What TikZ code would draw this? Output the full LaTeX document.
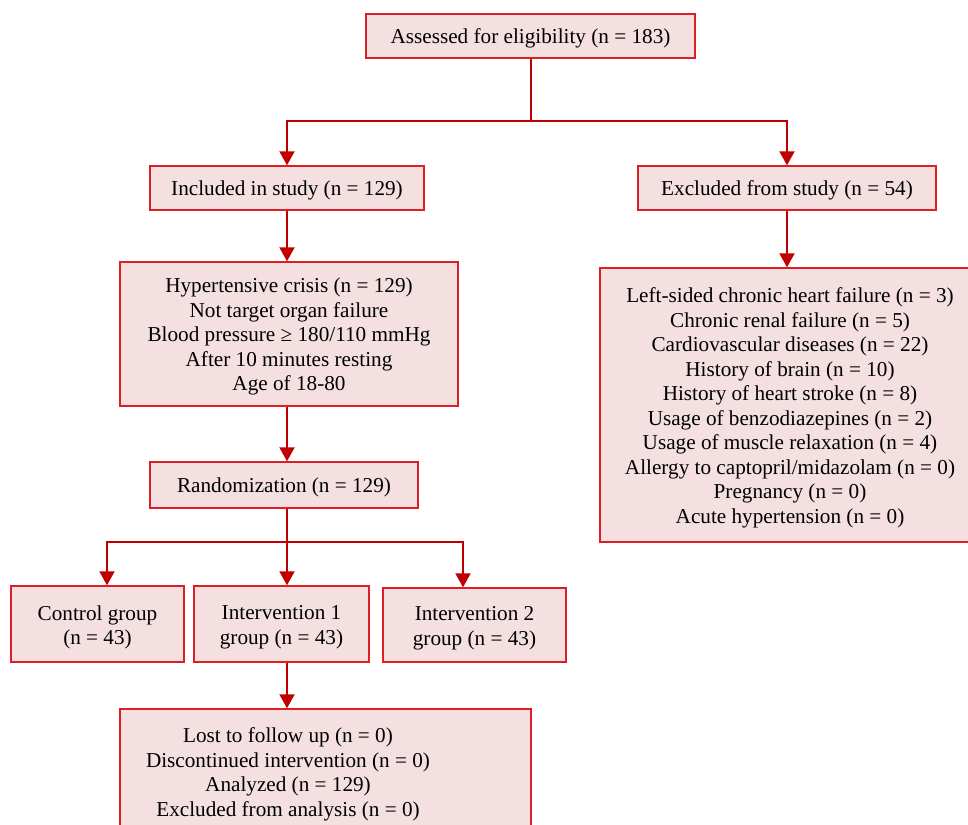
\documentclass[tikz,border=0pt]{standalone}
\usepackage{fontspec}
\setmainfont{Liberation Serif}
\usetikzlibrary{arrows.meta}
\definecolor{boxfill}{RGB}{244,224,224}
\definecolor{boxline}{RGB}{222,30,36}
\definecolor{arrred}{RGB}{192,0,0}
\begin{document}
\begin{tikzpicture}[x=1pt,y=-1pt,
  box/.style={draw=boxline, fill=boxfill, line width=1.4pt, inner sep=0pt},
  plain/.style={align=center, inner sep=0pt, font=\fontsize{21.2}{24.5}\selectfont},
  conn/.style={draw=arrred, line width=2pt},
  arr/.style={conn, -{Triangle[length=14pt,width=15pt]}}]
\useasboundingbox (0,0) rectangle (968,824);
\node[box, minimum width=329, minimum height=44,
  label={[plain,yshift=-2.5pt]center:{Assessed for eligibility (n = 183)}}] (assess) at (530.5,36) {};
\node[box, minimum width=274, minimum height=44,
  label={[plain,yshift=-2.5pt]center:{Included in study (n = 129)}}] (incl) at (287,188) {};
\node[box, minimum width=298, minimum height=44,
  label={[plain,yshift=-2.5pt]center:{Excluded from study (n = 54)}}] (excl) at (787,188) {};
\node[box, minimum width=338, minimum height=144,
  label={[plain,yshift=-2.5pt]center:{Hypertensive crisis (n = 129)\\Not target organ failure\\Blood pressure ≥ 180/110 mmHg\\After 10 minutes resting\\Age of 18-80}}] (hyp) at (289,334) {};
\node[box, minimum width=268, minimum height=46,
  label={[plain,yshift=-2.5pt]center:{Randomization (n = 129)}}] (rand) at (284,485) {};
\node[box, minimum width=380, minimum height=274,
  label={[plain,yshift=-3pt]center:{Left-sided chronic heart failure (n = 3)\\Chronic renal failure (n = 5)\\Cardiovascular diseases (n = 22)\\History of brain (n = 10)\\History of heart stroke (n = 8)\\Usage of benzodiazepines (n = 2)\\Usage of muscle relaxation (n = 4)\\Allergy to captopril/midazolam (n = 0)\\Pregnancy (n = 0)\\Acute hypertension (n = 0)}}] (reasons) at (790,405) {};
\node[box, minimum width=173, minimum height=76,
  label={[plain,yshift=-3.5pt]center:{Control group\\(n = 43)}}] (ctrl) at (97.5,624) {};
\node[box, minimum width=175, minimum height=76,
  label={[plain,yshift=-3.5pt]center:{Intervention 1\\group (n = 43)}}] (int1) at (281.5,624) {};
\node[box, minimum width=183, minimum height=74,
  label={[plain,yshift=-3.5pt]center:{Intervention 2\\group (n = 43)}}] (int2) at (474.5,625) {};
\node[box, minimum width=411, minimum height=126,
  label={[plain,xshift=-37.5pt,yshift=-2.5pt]center:{Lost to follow up (n = 0)\\Discontinued intervention (n = 0)\\Analyzed (n = 129)\\Excluded from analysis (n = 0)}}] (follow) at (325.5,772) {};
\coordinate (split1) at ([yshift=-62pt]assess.south);
\draw[conn] (assess.south) -- (split1);
\draw[arr] (split1) -| (incl.north);
\draw[arr] (split1) -| (excl.north);
\draw[arr] (excl.south) -- (excl.south |- reasons.north);
\draw[arr] (incl.south) -- (incl.south |- hyp.north);
\draw[arr] (hyp.south -| incl.south) -- (rand.north -| incl.south);
\coordinate (split2) at ([yshift=-33pt]rand.south -| incl.south);
\draw[conn] (rand.south -| split2) -- (split2);
\draw[arr] (split2) -| ([xshift=9.5pt]ctrl.north);
\draw[arr] (split2) -- (split2 |- int1.north);
\draw[arr] (split2) -| ([xshift=-11.5pt]int2.north);
\draw[arr] (int1.south -| split2) -- (split2 |- follow.north);
\end{tikzpicture}
\end{document}
